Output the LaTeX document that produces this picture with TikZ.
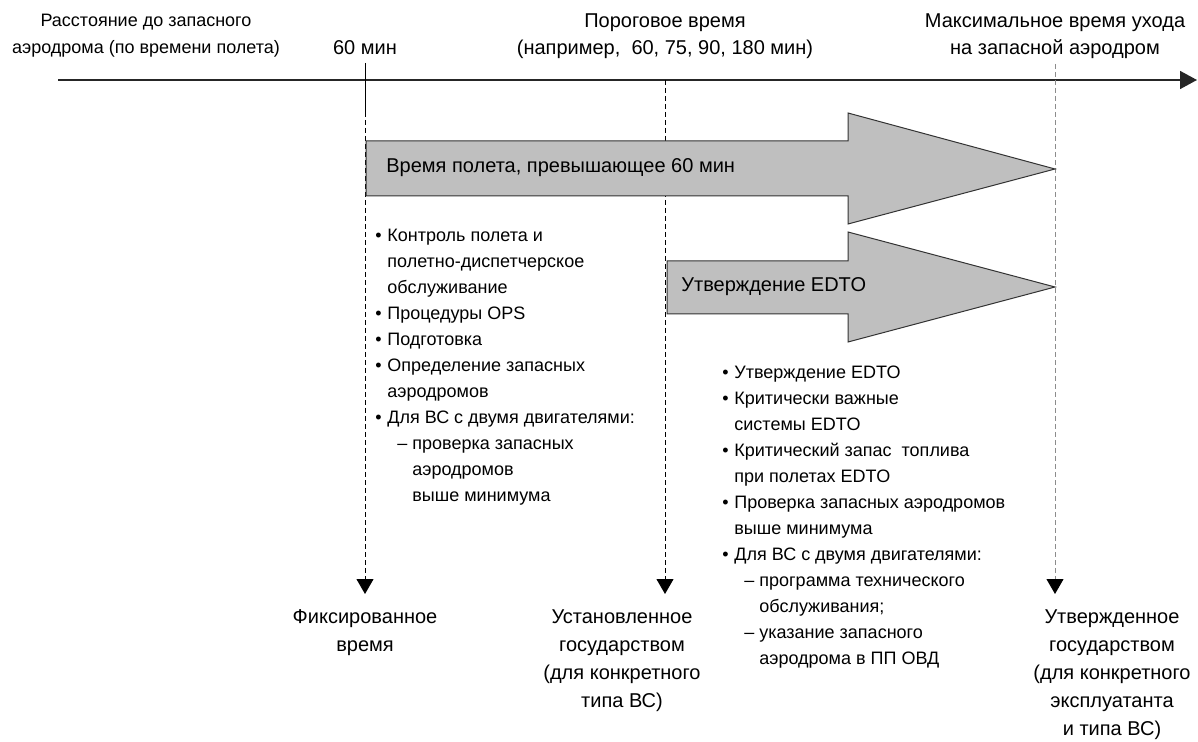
\documentclass[tikz,border=0pt]{standalone}
\usepackage{fontspec}
\setmainfont{Liberation Sans}
\usetikzlibrary{arrows.meta}

\newcommand{\bitem}{\makebox[6pt][l]{•}}
\newcommand{\bcont}{\hspace*{6pt}}
\newcommand{\ditem}[1]{\hspace*{#1}\makebox[7.5pt][l]{–}}
\newcommand{\dcont}{\hspace*{18.5pt}}

\tikzset{
  axisline/.style={line width=0.8pt, black!85, -{Triangle[length=8.5pt,width=9pt]}},
  guide/.style={line width=0.5pt, dash pattern=on 2.5pt off 1.5pt,
    shorten >=7.5pt, -{Triangle[length=7.5pt,width=8.5pt,color=black]}},
  bigarrow/.style={fill=black!25, draw=black!80, line width=0.5pt},
  toptxt/.style={inner sep=0pt, align=center, font=\fontsize{10}{13.5}\selectfont},
  bottxt/.style={inner sep=0pt, align=center, anchor=north, font=\fontsize{10}{14}\selectfont},
  arrtxt/.style={inner sep=0pt, anchor=west, font=\fontsize{10}{12}\selectfont},
  lst/.style={inner sep=0pt, align=left, anchor=north west, font=\fontsize{9}{13}\selectfont},
}

\begin{document}
\begin{tikzpicture}[x=0.5pt, y=-0.5pt]
    \useasboundingbox (0,0) rectangle (1198,742);

    % time axis
    \coordinate (ax0) at (58,80);
    \coordinate (ax1) at (1197,80);
    \draw[axisline] (ax0) -- (ax1);

    % labels above the axis
    \node[toptxt, font=\fontsize{9}{13.5}\selectfont] (dist) at (146,36) {Расстояние до запасного\\аэродрома (по времени полета)};
    \node[toptxt] (lbl60) at (365,48) {60 мин};
    \node[toptxt] (thr) at (665,36) {Пороговое время\\(например,~ 60, 75, 90, 180 мин)};
    \node[toptxt] (tmax) at (1055,36) {Максимальное время ухода\\на запасной аэродром};

    % labels below
    \node[bottxt] (fixed) at (365,609) {Фиксированное\\время};
    \node[bottxt] (stset) at (622,609) {Установленное\\государством\\(для конкретного\\типа ВС)};
    \node[bottxt] (stappr) at (1112,609) {Утвержденное\\государством\\(для конкретного\\эксплуатанта\\и типа ВС)};

    % guide lines
    \coordinate (s60) at (365,63);
    \coordinate (d60) at (365,112);
    \coordinate (dthr) at (665,80);
    \coordinate (dmax) at (1055,64);
    \draw[line width=0.5pt] (s60) -- (d60);
    \draw[guide] (d60) -- (fixed.north);
        \draw[guide] (dthr) -- (dthr |- stset.north);
        \draw[guide, black!45] (dmax) -- (dmax |- stappr.north);

    % block arrows
    \draw[bigarrow] (366,141) -- (848,141) -- (848,113) -- (1055,169)
        -- (848,224) -- (848,196) -- (366,196) -- cycle;
    \draw[bigarrow] (667,261) -- (848,261) -- (848,232) -- (1055,287)
        -- (848,342) -- (848,314) -- (667,314) -- cycle;
    \node[arrtxt] (over60) at (386,168) {Время полета, превышающее 60 мин};
    \node[arrtxt] (edto) at (681,287) {Утверждение EDTO};

    % lists
    \node[lst] (ops) at (375,229) {\bitem Контроль полета и\\
        \bcont полетно-диспетчерское\\
        \bcont обслуживание\\
        \bitem Процедуры OPS\\
        \bitem Подготовка\\
        \bitem Определение запасных\\
        \bcont аэродромов\\
        \bitem Для ВС с двумя двигателями:\\
        \ditem{11pt}проверка запасных\\
        \dcont аэродромов\\
        \dcont выше минимума};
    \node[lst] (req) at (722,366) {\bitem Утверждение EDTO\\
        \bitem Критически важные\\
        \bcont системы EDTO\\
        \bitem Критический запас~ топлива\\
        \bcont при полетах EDTO\\
        \bitem Проверка запасных аэродромов\\
        \bcont выше минимума\\
        \bitem Для ВС с двумя двигателями:\\
        \ditem{11pt}программа технического\\
        \dcont обслуживания;\\
        \ditem{11pt}указание запасного\\
        \dcont аэродрома в ПП ОВД};

\end{tikzpicture}
\end{document}
